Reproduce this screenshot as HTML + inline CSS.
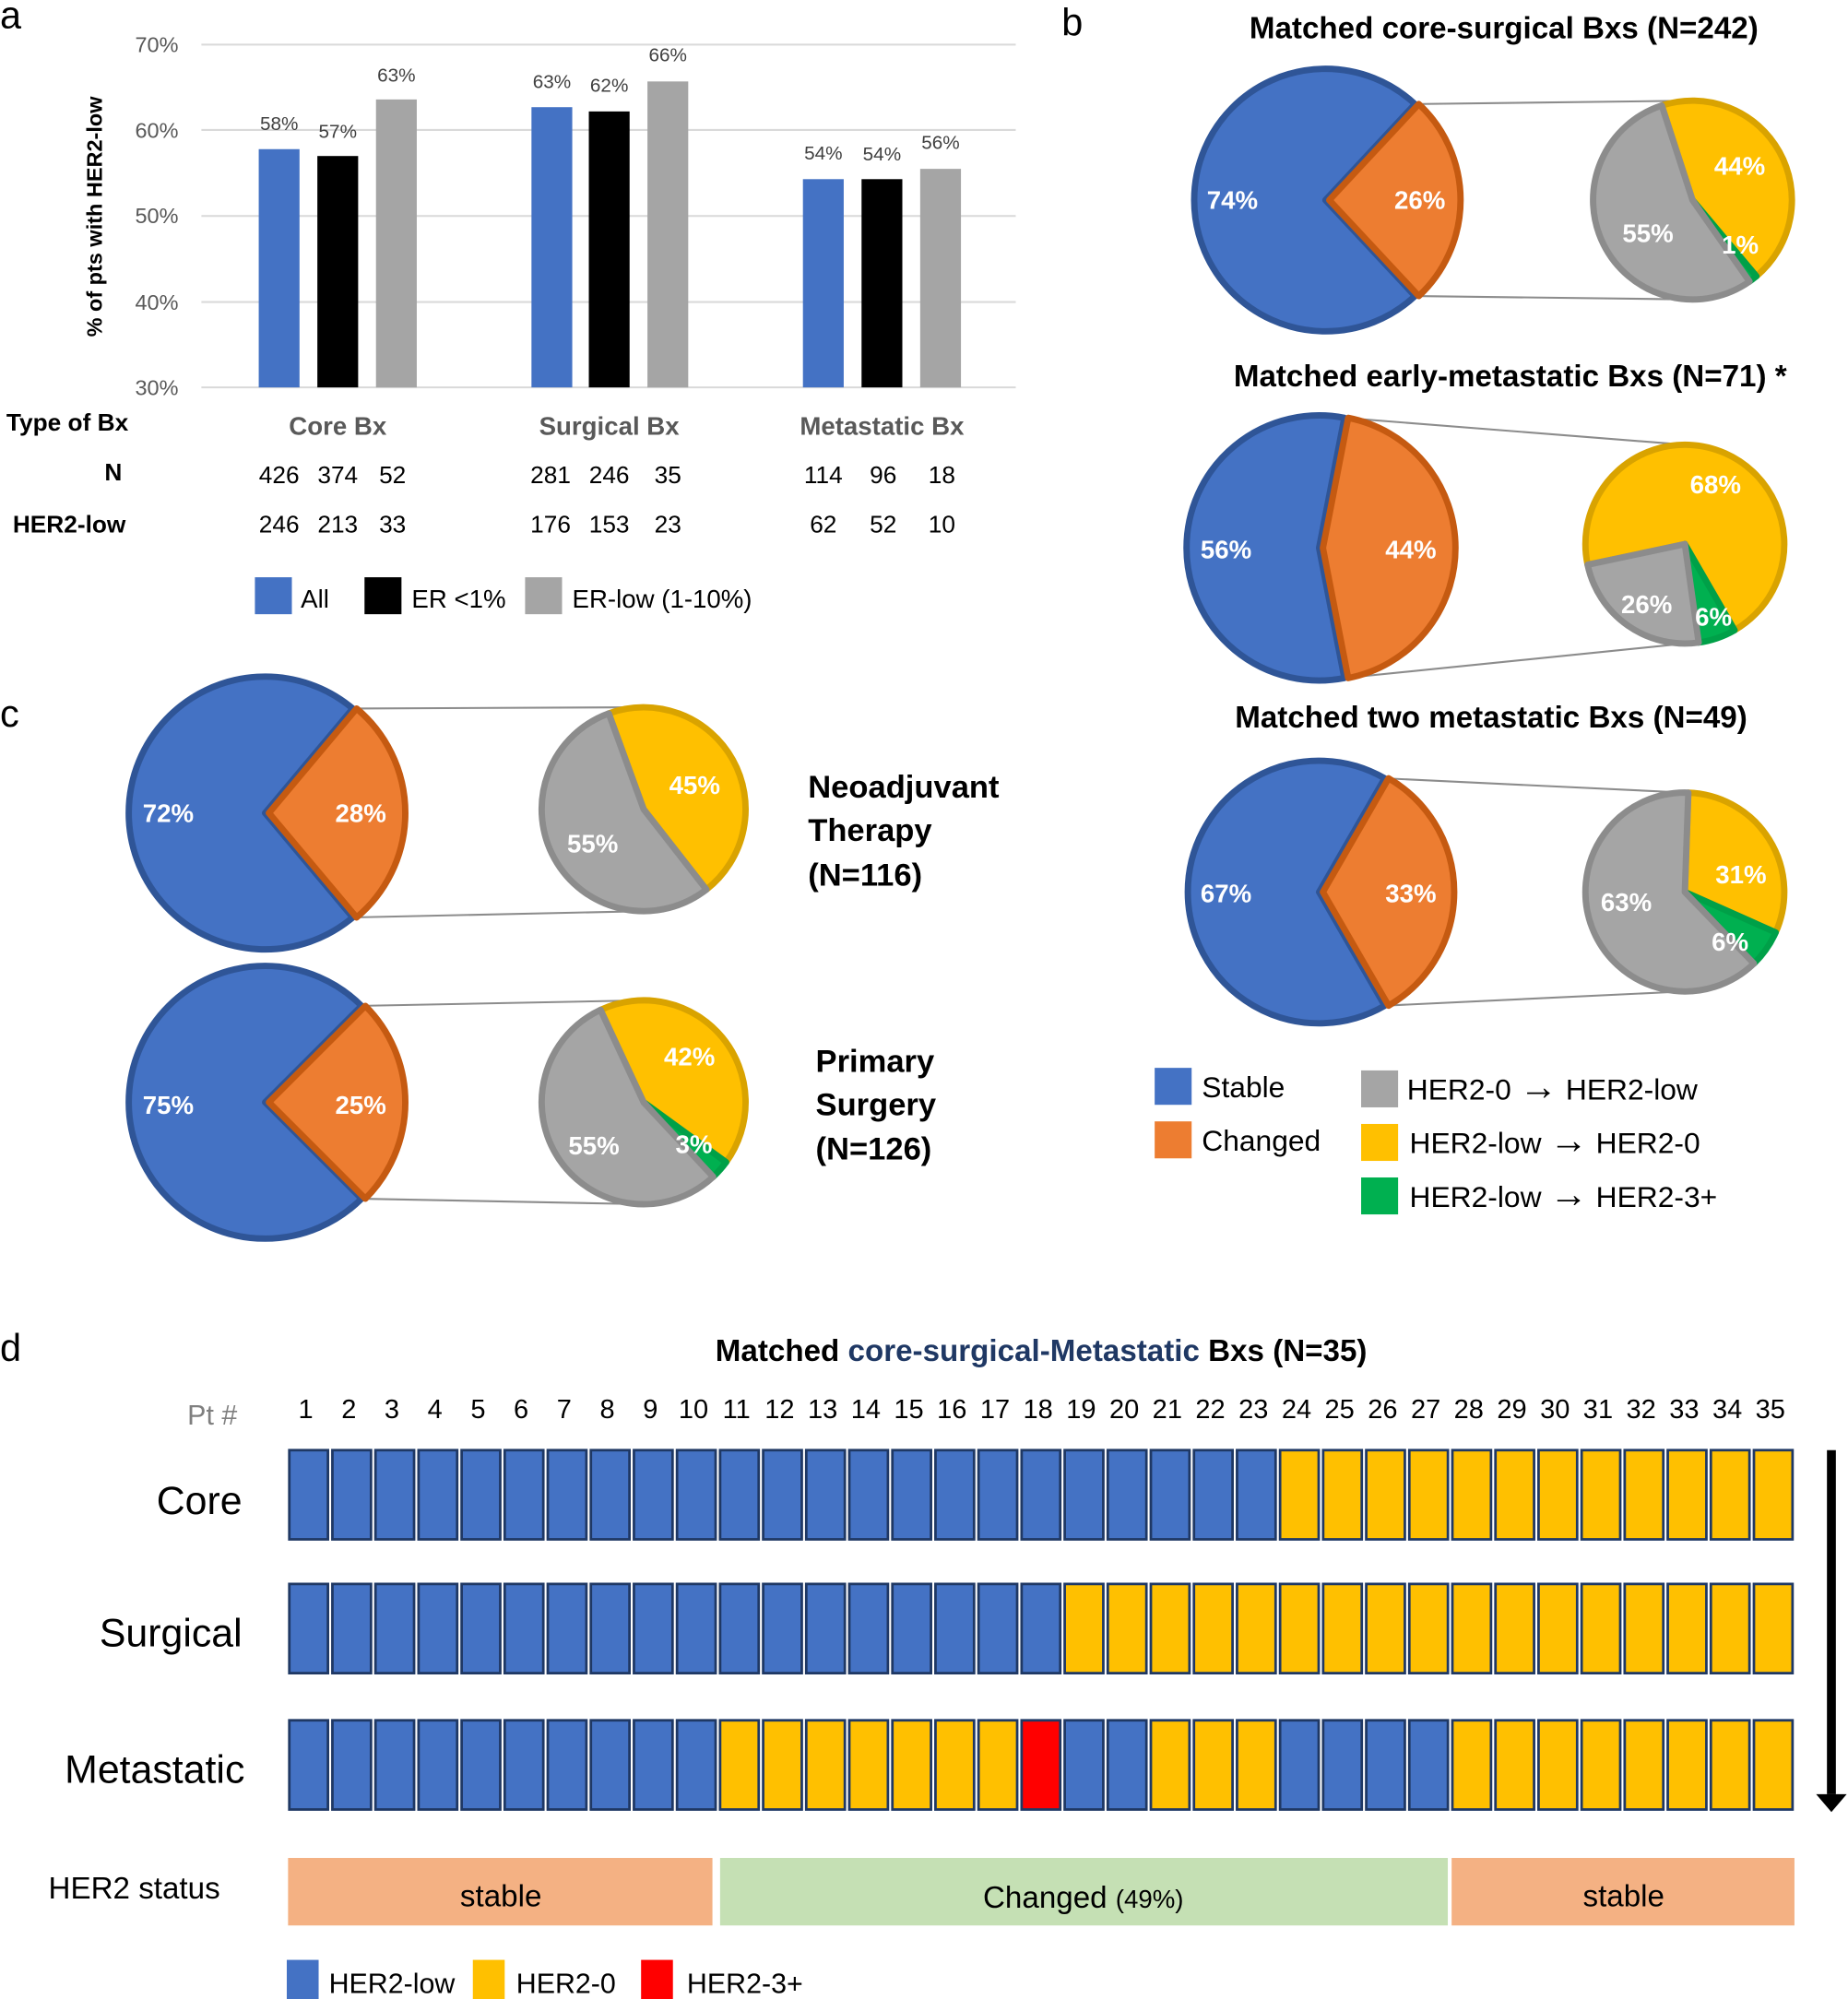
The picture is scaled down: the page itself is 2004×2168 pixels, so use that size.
<!DOCTYPE html>
<html><head><meta charset="utf-8"><style>
html,body{margin:0;padding:0;background:#fff}
svg{display:block}
text{font-family:"Liberation Sans","DejaVu Sans",sans-serif}
</style></head><body>
<svg id="s" width="2004" height="2168" viewBox="0 0 1450 1568.7" xmlns="http://www.w3.org/2000/svg">
<g id="pies"></g>
<!-- Panel a -->
<text x="0" y="22" font-size="30">a</text>
<g stroke="#d9d9d9" stroke-width="1.5">
<line x1="158" y1="35" x2="797" y2="35"/><line x1="158" y1="102" x2="797" y2="102"/><line x1="158" y1="169.5" x2="797" y2="169.5"/><line x1="158" y1="237" x2="797" y2="237"/><line x1="158" y1="304" x2="797" y2="304"/>
</g>
<g font-size="17" fill="#595959" text-anchor="end">
<text x="140" y="41">70%</text><text x="140" y="108">60%</text><text x="140" y="175">50%</text><text x="140" y="243">40%</text><text x="140" y="310">30%</text>
</g>
<text transform="translate(80,170) rotate(-90)" font-size="17" font-weight="bold" text-anchor="middle">% of pts with HER2-low</text>
<g id="bars"></g>
<g font-size="15" fill="#404040" text-anchor="middle">
<text x="219" y="102">58%</text><text x="265" y="108">57%</text><text x="311" y="64">63%</text>
<text x="433" y="69">63%</text><text x="478" y="72">62%</text><text x="524" y="48">66%</text>
<text x="646" y="125">54%</text><text x="692" y="126">54%</text><text x="738" y="117">56%</text>
</g>
<g font-size="19" font-weight="bold">
<text x="5" y="338">Type of Bx</text><text x="82" y="377">N</text><text x="10" y="418">HER2-low</text>
</g>
<g font-size="20" fill="#595959" font-weight="bold" text-anchor="middle">
<text x="265" y="341">Core Bx</text><text x="478" y="341">Surgical Bx</text><text x="692" y="341">Metastatic Bx</text>
</g>
<g font-size="19" text-anchor="middle">
<text x="219" y="379">426</text><text x="265" y="379">374</text><text x="308" y="379">52</text>
<text x="432" y="379">281</text><text x="478" y="379">246</text><text x="524" y="379">35</text>
<text x="646" y="379">114</text><text x="693" y="379">96</text><text x="739" y="379">18</text>
<text x="219" y="418">246</text><text x="265" y="418">213</text><text x="308" y="418">33</text>
<text x="432" y="418">176</text><text x="478" y="418">153</text><text x="524" y="418">23</text>
<text x="646" y="418">62</text><text x="693" y="418">52</text><text x="739" y="418">10</text>
</g>
<rect x="200" y="453" width="29" height="29" fill="#4472C4"/><text x="236" y="477" font-size="20">All</text>
<rect x="286" y="453" width="29" height="29" fill="#000"/><text x="323" y="477" font-size="20">ER &lt;1%</text>
<rect x="412" y="453" width="29" height="29" fill="#A5A5A5"/><text x="449" y="477" font-size="20">ER-low (1-10%)</text>

<!-- Panel b -->
<text x="833" y="28" font-size="30">b</text>
<g font-size="24" font-weight="bold" text-anchor="middle">
<text x="1180" y="30">Matched core-surgical Bxs (N=242)</text>
<text x="1185" y="303">Matched  early-metastatic Bxs  (N=71) *</text>
<text x="1170" y="571">Matched two metastatic Bxs (N=49)</text>
</g>
<g font-size="20" font-weight="bold" fill="#fff">
<text x="947" y="164">74%</text><text x="1094" y="164">26%</text><text x="1345" y="137">44%</text><text x="1273" y="190">55%</text><text x="1351" y="199">1%</text>
<text x="942" y="438">56%</text><text x="1087" y="438">44%</text><text x="1326" y="387">68%</text><text x="1272" y="481">26%</text><text x="1330" y="491">6%</text>
<text x="942" y="708">67%</text><text x="1087" y="708">33%</text><text x="1346" y="693">31%</text><text x="1256" y="715">63%</text><text x="1343" y="746">6%</text>
</g>
<rect x="906" y="838" width="29" height="29" fill="#4472C4"/><text x="943" y="861" font-size="23">Stable</text>
<rect x="906" y="880" width="29" height="29" fill="#ED7D31"/><text x="943" y="903" font-size="23">Changed</text>
<rect x="1068" y="840" width="29" height="29" fill="#A5A5A5"/><text x="1104" y="863" font-size="23">HER2-0 <tspan font-size="30">→</tspan> HER2-low</text>
<rect x="1068" y="882" width="29" height="29" fill="#FFC000"/><text x="1106" y="905" font-size="23">HER2-low <tspan font-size="30">→</tspan> HER2-0</text>
<rect x="1068" y="924" width="29" height="29" fill="#00B050"/><text x="1106" y="947" font-size="23">HER2-low <tspan font-size="30">→</tspan> HER2-3+</text>

<!-- Panel c -->
<text x="0" y="570" font-size="30">c</text>
<g font-size="20" font-weight="bold" fill="#fff">
<text x="112" y="645">72%</text><text x="263" y="645">28%</text><text x="525" y="623">45%</text><text x="445" y="669">55%</text>
<text x="112" y="874">75%</text><text x="263" y="874">25%</text><text x="521" y="836">42%</text><text x="446" y="906">55%</text><text x="530" y="905">3%</text>
</g>
<g font-size="25" font-weight="bold">
<text x="634" y="626">Neoadjuvant</text><text x="634" y="660">Therapy</text><text x="634" y="695">(N=116)</text>
<text x="640" y="841">Primary</text><text x="640" y="875">Surgery</text><text x="640" y="910">(N=126)</text>
</g>

<!-- Panel d -->
<text x="0" y="1068" font-size="30">d</text>
<text x="817" y="1068" font-size="24" font-weight="bold" text-anchor="middle">Matched <tspan fill="#1F3864">core-surgical-Metastatic</tspan> Bxs (N=35)</text>
<text x="147" y="1118" font-size="22" fill="#7f7f7f">Pt #</text>
<g id="nums" font-size="21" text-anchor="middle"></g>
<g font-size="31" text-anchor="end">
<text x="190" y="1188">Core</text><text x="190" y="1292">Surgical</text><text x="192" y="1399">Metastatic</text>
</g>
<g id="boxes"></g>
<line x1="1437" y1="1138" x2="1437" y2="1408" stroke="#000" stroke-width="7"/>
<polygon points="1425,1408 1449,1408 1437,1422" fill="#000"/>
<text x="38" y="1490" font-size="24">HER2 status</text>
<rect x="226" y="1458" width="333" height="53" fill="#F4B183"/>
<rect x="565" y="1458" width="571" height="53" fill="#C5E0B4"/>
<rect x="1139" y="1458" width="269" height="53" fill="#F4B183"/>
<text x="393" y="1496" font-size="24" text-anchor="middle">stable</text>
<text x="850" y="1497" font-size="24" text-anchor="middle">Changed <tspan font-size="20">(49%)</tspan></text>
<text x="1274" y="1496" font-size="24" text-anchor="middle">stable</text>
<rect x="225" y="1538" width="25" height="31" fill="#4472C4"/><text x="258" y="1564" font-size="22">HER2-low</text>
<rect x="371" y="1538" width="25" height="31" fill="#FFC000"/><text x="405" y="1564" font-size="22">HER2-0</text>
<rect x="503" y="1538" width="25" height="31" fill="#FF0000"/><text x="539" y="1564" font-size="22">HER2-3+</text>
</svg>
<script>
var NS="http://www.w3.org/2000/svg";
function el(p,t,a){var e=document.createElementNS(NS,t);for(var k in a)e.setAttribute(k,a[k]);p.appendChild(e);return e;}
var bars=document.getElementById('bars');
function y(v){return 304-(v-30)*6.725;}
[[203,57.8,'#4472C4'],[249,57,'#000'],[295,63.6,'#A5A5A5'],[417,62.7,'#4472C4'],[462,62.2,'#000'],[508,65.7,'#A5A5A5'],[630,54.3,'#4472C4'],[676,54.3,'#000'],[722,55.5,'#A5A5A5']].forEach(function(b){el(bars,'rect',{x:b[0],y:y(b[1]),width:32,height:304-y(b[1]),fill:b[2]});});
var P=document.getElementById('pies');
var C={b:['#4472C4','#2F5597'],o:['#ED7D31','#C55A11'],g:['#A5A5A5','#8C8C8C'],y:['#FFC000','#D9A300'],n:['#00B050','#00A048']};
function pt(cx,cy,r,a){a=a*Math.PI/180;return [cx+r*Math.cos(a),cy+r*Math.sin(a)];}
function wedge(cx,cy,r,a1,a2,c){var p1=pt(cx,cy,r,a1),p2=pt(cx,cy,r,a2);var large=(a2-a1)>180?1:0;
el(P,'path',{d:'M'+cx+','+cy+'L'+p1[0]+','+p1[1]+'A'+r+','+r+' 0 '+large+' 1 '+p2[0]+','+p2[1]+'Z',fill:C[c][0],stroke:C[c][1],'stroke-width':5,'stroke-linejoin':'round'});}
function line(a,b){el(P,'line',{x1:a[0],y1:a[1],x2:b[0],y2:b[1],stroke:'#8c8c8c','stroke-width':1.5});}
function pop(bc,br,half,sc,sr,segs){
 var t=pt(bc[0],bc[1],br,-half),b=pt(bc[0],bc[1],br,half);
 line(t,[sc[0],sc[1]-sr]);line(b,[sc[0],sc[1]+sr]);
 wedge(bc[0],bc[1],br,half,360-half,'b');wedge(bc[0]+3,bc[1],br,-half,half,'o');
 segs.forEach(function(s){wedge(sc[0],sc[1],sr,s[0],s[1],s[2]);});
}
pop([1040,157],103,47,[1328,157],78,[[-108,50,'y'],[50,55,'n'],[55,252,'g']]);
pop([1035,430],104,79,[1322,427],78,[[168,420,'y'],[60,82,'n'],[82,168,'g']]);
pop([1035,700],103,60,[1322,700],78,[[-88,24,'y'],[24,46,'n'],[46,272,'g']]);
pop([208,638],107,50,[505,635],80,[[-110,52,'y'],[52,250,'g']]);
pop([208,865],107,45,[505,865],80,[[-115,36,'y'],[36,47,'n'],[47,245,'g']]);
var nums=document.getElementById('nums'),bx=document.getElementById('boxes');
var w=1183/35;
var rows=[[1138,function(i){return i<=23?'#4472C4':'#FFC000';}],[1243,function(i){return i<=18?'#4472C4':'#FFC000';}],[1350,function(i){if(i<=10)return '#4472C4';if(i<=17)return '#FFC000';if(i==18)return '#FF0000';if(i<=20)return '#4472C4';if(i<=23)return '#FFC000';if(i<=27)return '#4472C4';return '#FFC000';}]];
for(var i=1;i<=35;i++){var x=226+(i-1)*w;var t=el(nums,'text',{x:x+w/2-3,y:1113});t.textContent=i;
rows.forEach(function(r){el(bx,'rect',{x:x+1,y:r[0],width:w-3.5,height:70,fill:r[1](i),stroke:'#1F3864','stroke-width':2});});}
</script>
</body></html>
